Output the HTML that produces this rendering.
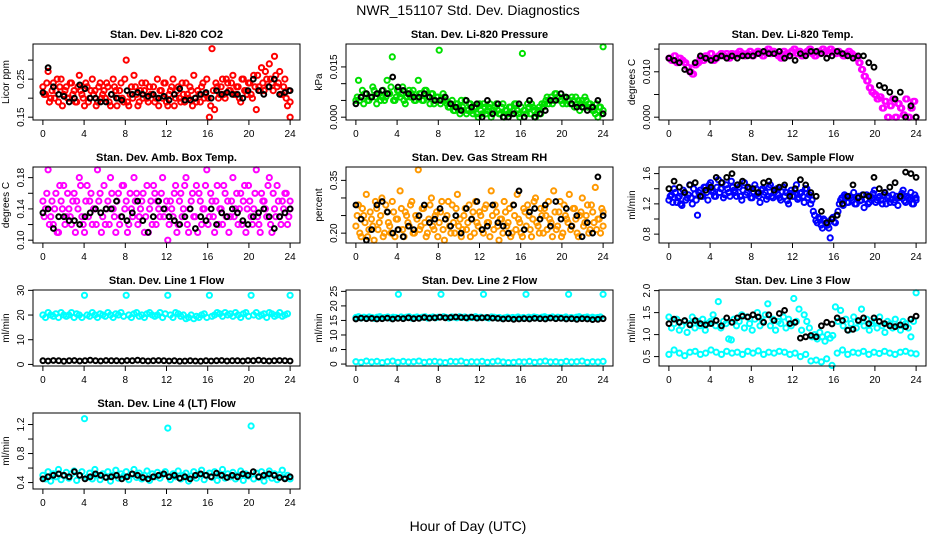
<!DOCTYPE html>
<html><head><meta charset="utf-8"><style>
html,body{margin:0;padding:0;background:#fff;}
svg{display:block;font-family:"Liberation Sans",Arial,sans-serif;}
</style></head><body>
<svg id="chart" width="936" height="540" viewBox="0 0 936 540" xmlns="http://www.w3.org/2000/svg">
<text x="468" y="15" text-anchor="middle" font-size="14">NWR_151107  Std. Dev. Diagnostics</text>
<text x="468" y="531" text-anchor="middle" font-size="14">Hour of Day (UTC)</text>
<g id="panels"></g>
</svg>
<script>
const xTicks=[0,4,8,12,16,20,24];
const co2Color=[0.23,0.21,0.27,0.20,0.24,0.22,0.19,0.25,0.21,0.23,0.20,0.24,0.22,0.19,0.26,0.21,0.18,0.23,0.20,0.25,0.22,0.19,0.24,0.21,
0.20,0.23,0.18,0.25,0.22,0.20,0.24,0.19,0.30,0.18,0.23,0.26,0.21,0.19,0.24,0.22,0.20,0.23,0.21,0.19,0.25,0.22,0.20,0.24,
0.18,0.22,0.25,0.20,0.23,0.19,0.21,0.24,0.20,0.22,0.26,0.19,0.21,0.23,0.20,0.25,0.15,0.33,0.17,0.23,0.21,0.25,0.20,0.24,
0.22,0.26,0.21,0.23,0.19,0.25,0.22,0.24,0.21,0.26,0.17,0.23,0.28,0.22,0.25,0.29,0.24,0.31,0.23,0.27,0.21,0.25,0.18,0.15];
const co2Color2=[0.21,0.24,0.19,0.22,0.20,0.25,0.23,0.18,0.22,0.20,0.24,0.21,0.19,0.23,0.22,0.20,0.24,0.19,0.22,0.21,0.18,0.23,0.20,0.22,
0.24,0.19,0.21,0.23,0.18,0.22,0.20,0.25,0.19,0.21,0.20,0.23,0.18,0.22,0.20,0.24,0.19,0.21,0.23,0.20,0.18,0.22,0.24,0.19,
0.21,0.23,0.18,0.22,0.20,0.24,0.19,0.21,0.23,0.18,0.20,0.22,0.19,0.24,0.21,0.20,0.18,0.22,0.24,0.20,0.23,0.21,0.25,0.22,
0.24,0.21,0.23,0.20,0.25,0.22,0.21,0.24,0.20,0.23,0.26,0.22,0.24,0.27,0.23,0.25,0.22,0.26,0.24,0.21,0.23,0.20,0.22,0.19];
const co2Black=[0.215,0.28,0.23,0.21,0.205,0.19,0.20,0.235,0.225,0.20,0.20,0.19,0.19,0.21,0.20,0.195,0.22,0.21,0.215,0.21,0.205,0.21,0.20,0.205,0.195,0.21,0.225,0.195,0.195,0.20,0.21,0.215,0.20,0.22,0.21,0.215,0.21,0.21,0.20,0.22,0.25,0.22,0.21,0.23,0.25,0.21,0.215,0.22];
const presColor=[0.005,0.011,0.006,0.004,0.007,0.005,0.006,0.008,0.004,0.007,0.006,0.005,0.011,0.007,0.018,0.005,0.008,0.006,0.009,0.004,0.007,0.006,0.008,0.005,
0.011,0.007,0.005,0.008,0.006,0.007,0.004,0.006,0.020,0.005,0.006,0.004,0.003,0.005,0.002,0.004,0.001,0.003,0.005,0.002,0.004,0.001,0.003,0.000,
0.002,0.004,0.001,0.003,0.000,0.002,0.004,0.001,0.003,0.000,0.002,0.003,0.001,0.004,0.002,0.000,0.019,0.002,0.004,0.001,0.003,0.000,0.002,0.001,
0.003,0.005,0.004,0.006,0.005,0.007,0.006,0.005,0.006,0.004,0.005,0.006,0.003,0.004,0.002,0.005,0.006,0.003,0.004,0.002,0.001,0.000,0.003,0.021];
const presColor2=[0.006,0.005,0.008,0.007,0.005,0.006,0.009,0.006,0.007,0.005,0.008,0.006,0.007,0.009,0.005,0.006,0.008,0.007,0.005,0.006,0.008,0.007,0.005,0.006,
0.007,0.005,0.008,0.006,0.004,0.007,0.005,0.006,0.004,0.007,0.005,0.003,0.004,0.002,0.004,0.003,0.005,0.002,0.001,0.004,0.002,0.003,0.001,0.004,
0.001,0.003,0.002,0.004,0.001,0.003,0.002,0.001,0.004,0.002,0.001,0.003,0.002,0.004,0.001,0.003,0.002,0.001,0.003,0.004,0.002,0.001,0.003,0.004,
0.004,0.006,0.005,0.004,0.007,0.006,0.005,0.004,0.006,0.005,0.004,0.005,0.006,0.005,0.004,0.003,0.005,0.004,0.003,0.002,0.004,0.003,0.001,0.002];
const presBlack=[0.004,0.006,0.007,0.006,0.007,0.008,0.007,0.012,0.009,0.008,0.007,0.006,0.006,0.007,0.006,0.005,0.005,0.006,0.004,0.003,0.002,0.005,0.003,0.004,0.000,0.005,0.001,0.004,0.000,0.000,0.001,0.004,0.000,0.005,0.000,0.001,0.002,0.005,0.005,0.007,0.006,0.004,0.003,0.003,0.002,0.003,0.005,0.001];
const tempColor=[0.013,0.0125,0.0135,0.012,0.013,0.0125,0.012,0.011,0.010,0.0095,0.0115,0.012,0.013,0.0125,0.0135,0.013,0.014,0.0125,0.013,0.0135,0.014,0.0135,0.014,0.013,
0.014,0.0135,0.014,0.0145,0.014,0.0135,0.014,0.0145,0.0135,0.014,0.0145,0.014,0.0135,0.0145,0.015,0.014,0.0145,0.014,0.0135,0.013,0.0145,0.014,0.0135,0.0145,
0.015,0.014,0.0145,0.0135,0.014,0.0145,0.015,0.014,0.0135,0.0145,0.014,0.015,0.0145,0.014,0.015,0.0145,0.014,0.0145,0.014,0.0135,0.014,0.0145,0.014,0.0135,
0.013,0.012,0.0105,0.009,0.008,0.0065,0.0055,0.005,0.004,0.0045,0.002,0.0035,0.000,0.0025,0.004,0.000,0.003,0.002,0.0005,0.004,0.000,0.002,0.0035,0.000];
const tempBlack=[0.013,0.0125,0.012,0.0105,0.010,0.012,0.0135,0.013,0.0125,0.013,0.0135,0.013,0.0135,0.013,0.0135,0.0135,0.0135,0.014,0.0145,0.014,0.014,0.0145,0.013,0.0135,0.0125,0.014,0.0135,0.0145,0.0145,0.014,0.013,0.0135,0.0145,0.014,0.0135,0.013,0.0135,0.0135,0.012,0.011,0.007,0.0065,0.0055,0.004,0.0055,0.000,0.0025,0.000];
const boxColor=[0.15,0.14,0.19,0.13,0.12,0.16,0.11,0.15,0.17,0.13,0.14,0.12,0.16,0.15,0.18,0.13,0.11,0.17,0.15,0.12,0.14,0.19,0.16,0.13,
0.12,0.15,0.18,0.14,0.11,0.16,0.13,0.17,0.15,0.12,0.14,0.18,0.16,0.13,0.15,0.11,0.17,0.14,0.12,0.16,0.15,0.13,0.18,0.14,
0.10,0.15,0.13,0.17,0.12,0.16,0.14,0.18,0.11,0.15,0.13,0.17,0.16,0.12,0.14,0.19,0.13,0.15,0.11,0.17,0.14,0.12,0.16,0.15,
0.13,0.18,0.14,0.12,0.16,0.15,0.11,0.17,0.13,0.14,0.19,0.12,0.16,0.15,0.13,0.18,0.11,0.14,0.17,0.13,0.15,0.16,0.12,0.14];
const boxColor2=[0.13,0.16,0.12,0.15,0.14,0.11,0.17,0.14,0.12,0.16,0.13,0.15,0.11,0.14,0.17,0.12,0.15,0.13,0.16,0.14,0.12,0.15,0.11,0.17,
0.14,0.12,0.16,0.13,0.15,0.12,0.17,0.14,0.11,0.16,0.13,0.15,0.12,0.14,0.16,0.13,0.11,0.15,0.17,0.12,0.14,0.16,0.13,0.15,
0.12,0.14,0.16,0.11,0.15,0.13,0.17,0.12,0.14,0.16,0.13,0.11,0.15,0.14,0.17,0.12,0.16,0.13,0.15,0.12,0.14,0.17,0.13,0.11,
0.15,0.13,0.16,0.14,0.12,0.17,0.14,0.15,0.12,0.16,0.13,0.11,0.15,0.14,0.17,0.12,0.16,0.13,0.15,0.12,0.14,0.16,0.13,0.15];
const boxBlack=[0.135,0.14,0.115,0.13,0.13,0.125,0.125,0.12,0.13,0.135,0.14,0.135,0.14,0.14,0.15,0.13,0.125,0.135,0.15,0.125,0.11,0.13,0.15,0.14,0.13,0.125,0.12,0.13,0.14,0.115,0.13,0.125,0.14,0.12,0.135,0.13,0.14,0.135,0.125,0.12,0.13,0.135,0.14,0.13,0.115,0.13,0.135,0.14];
const rhColor=[0.22,0.28,0.19,0.25,0.31,0.21,0.24,0.18,0.27,0.23,0.30,0.20,0.26,0.22,0.29,0.19,0.24,0.32,0.21,0.26,0.23,0.28,0.20,0.25,
0.38,0.22,0.27,0.19,0.24,0.30,0.21,0.26,0.23,0.29,0.18,0.25,0.22,0.28,0.20,0.31,0.24,0.21,0.27,0.23,0.19,0.26,0.29,0.22,
0.25,0.20,0.28,0.23,0.32,0.21,0.26,0.18,0.24,0.29,0.22,0.27,0.20,0.25,0.31,0.23,0.19,0.26,0.28,0.21,0.24,0.30,0.22,0.27,
0.20,0.25,0.29,0.23,0.32,0.21,0.26,0.19,0.28,0.24,0.31,0.22,0.27,0.20,0.25,0.30,0.23,0.28,0.21,0.26,0.33,0.24,0.20,0.22];
const rhColor2=[0.25,0.20,0.27,0.23,0.19,0.26,0.22,0.29,0.21,0.25,0.19,0.28,0.23,0.20,0.26,0.24,0.21,0.27,0.19,0.25,0.22,0.29,0.20,0.24,
0.21,0.27,0.23,0.20,0.28,0.22,0.25,0.19,0.26,0.21,0.24,0.29,0.20,0.23,0.27,0.22,0.19,0.25,0.21,0.28,0.24,0.20,0.23,0.26,
0.21,0.27,0.23,0.19,0.25,0.28,0.22,0.24,0.20,0.26,0.23,0.19,0.28,0.21,0.24,0.20,0.27,0.22,0.25,0.19,0.29,0.23,0.20,0.25,
0.27,0.21,0.24,0.19,0.26,0.22,0.29,0.20,0.25,0.23,0.21,0.27,0.24,0.19,0.26,0.22,0.25,0.20,0.28,0.23,0.21,0.24,0.27,0.26];
const rhBlack=[0.28,0.24,0.18,0.21,0.28,0.29,0.26,0.20,0.21,0.19,0.22,0.21,0.25,0.28,0.23,0.24,0.27,0.24,0.22,0.25,0.20,0.27,0.24,0.29,0.21,0.22,0.28,0.23,0.22,0.20,0.28,0.32,0.21,0.26,0.27,0.24,0.28,0.22,0.29,0.24,0.27,0.22,0.25,0.19,0.23,0.20,0.36,0.25];
const flowColor=[1.25,1.32,1.40,1.22,1.30,1.18,1.35,1.28,1.45,1.20,1.33,1.05,1.38,1.30,1.42,1.25,1.48,1.35,1.30,1.52,1.40,1.28,1.45,1.35,
1.50,1.38,1.30,1.42,1.25,1.48,1.35,1.40,1.28,1.45,1.33,1.22,1.40,1.35,1.30,1.45,1.28,1.38,1.32,1.25,1.42,1.35,1.20,1.38,
1.30,1.45,1.28,1.35,1.22,1.40,1.32,1.25,1.05,0.95,1.00,0.88,0.98,0.92,0.75,1.02,0.95,1.10,1.25,1.18,1.30,1.22,1.28,1.35,
1.20,1.30,1.25,1.15,1.32,1.22,1.28,1.38,1.25,1.30,1.20,1.35,1.28,1.22,1.32,1.25,1.18,1.30,1.38,1.22,1.28,1.35,1.20,1.25];
const flowColor2=[1.30,1.22,1.35,1.28,1.20,1.38,1.25,1.32,1.28,1.40,1.25,1.35,1.30,1.42,1.35,1.45,1.38,1.30,1.42,1.35,1.48,1.32,1.40,1.30,
1.42,1.35,1.45,1.30,1.38,1.32,1.42,1.28,1.36,1.40,1.30,1.38,1.32,1.26,1.42,1.30,1.35,1.40,1.28,1.36,1.30,1.24,1.34,1.30,
1.38,1.26,1.34,1.30,1.40,1.28,1.20,1.10,0.98,1.02,0.92,1.00,0.95,0.88,1.00,0.96,1.05,1.20,1.28,1.32,1.22,1.30,1.25,1.20,
1.28,1.24,1.32,1.26,1.20,1.30,1.34,1.22,1.28,1.25,1.32,1.20,1.30,1.26,1.22,1.30,1.28,1.34,1.24,1.30,1.26,1.20,1.32,1.28];
const flowBlack=[1.40,1.50,1.42,1.35,1.45,1.48,1.30,1.38,1.42,1.55,1.48,1.55,1.60,1.45,1.50,1.42,1.40,1.35,1.48,1.50,1.38,1.42,1.45,1.30,1.40,1.52,1.45,1.35,1.30,1.10,0.95,1.00,1.05,1.20,1.30,1.45,1.28,1.32,1.30,1.55,1.40,1.35,1.42,1.48,1.30,1.62,1.60,1.55];
const line1Color=[20,19,21,20,19.5,20.5,19,21,20,19.5,20,21,19,20.5,20,19,28,20,19.5,21,20,19,20.5,20,
19.5,21,20,19,20.5,20,21,19.5,28,20,19,20.5,21,19.5,20,19,20.5,21,20,19.5,20,21,19,20.5,
28,20,19,21,20.5,19.5,20,18.5,19,20,18.5,19.5,19,20,20.5,19,28,19.5,20,21,20.5,19.5,21,20,
20.5,19.5,21,20,19,20.5,21,19.5,28,20,21,19.5,20,20.5,19,21,20.5,19.5,20,21,19.5,20,20.5,28];
const line1Black=[1.5,1.4,1.6,1.5,1.3,1.5,1.6,1.4,1.5,1.7,1.5,1.4,1.6,1.5,1.5,1.4,1.6,1.5,1.7,1.5,1.4,1.5,1.6,1.5,1.4,1.5,1.3,1.4,1.5,1.4,1.3,1.5,1.4,1.5,1.6,1.4,1.5,1.5,1.4,1.6,1.5,1.7,1.5,1.4,1.5,1.6,1.5,1.4];
const line2Color=[16,16.3,15.8,16.1,15.9,16.2,16,15.7,16.1,16.3,15.9,16,16.2,15.8,16.1,16,24,16.2,15.9,16.1,16.3,15.8,16,16.2,
15.9,16.1,16.3,15.8,16,16.2,15.9,16.1,24,16.3,16,15.8,16.2,16.1,15.9,16.3,16,16.2,15.8,16.1,16,16.3,15.9,16.1,
24,16,15.8,16.2,16.1,15.9,16,15.7,15.9,16.1,15.8,16,15.9,16.2,15.8,16,24,16.1,15.9,16.2,16,15.8,16.1,16.3,
15.9,16,16.2,15.8,16.1,16,15.9,16.2,24,16,15.8,16.1,16.3,15.9,16,16.2,15.8,16.1,15.9,16,16.2,24];
const line2Low=[0.8,0.6,1.0,0.7,0.9,0.5,0.8,1.0,0.6,0.9,0.7,0.8,1.0,0.6,0.8,0.9,0.7,0.5,0.9,0.8,1.0,0.6,0.8,0.7,0.9,0.6,0.8,1.0,0.7,0.5,0.6,0.8,0.7,0.9,0.6,0.8,1.0,0.7,0.8,0.6,0.9,0.7,0.8,1.0,0.6,0.8,0.7,0.9];
const line2Black=[15.5,15.8,15.6,15.7,15.5,15.6,15.8,15.5,15.7,15.6,15.9,15.6,15.7,16.0,15.8,15.9,16.1,15.9,16.0,16.2,16.0,15.9,16.1,15.8,15.9,16.0,15.8,15.7,15.5,15.6,15.4,15.5,15.6,15.5,15.7,15.6,15.5,15.8,15.6,15.7,15.5,15.6,15.4,15.6,15.5,15.3,15.4,15.6];
const line3Color=[1.40,1.15,1.25,1.35,1.10,1.20,1.30,1.05,1.25,1.40,1.15,1.30,1.20,1.35,1.10,1.25,1.30,1.45,1.20,1.75,1.15,1.30,1.25,0.90,
0.88,1.35,1.20,1.30,1.45,1.15,1.40,1.25,1.10,1.35,1.50,1.20,1.30,1.45,1.70,1.20,1.35,1.10,1.30,1.25,1.40,1.15,1.35,1.20,
1.82,1.30,1.58,1.10,1.45,1.30,1.15,0.95,1.00,0.90,1.05,0.95,0.85,1.00,0.92,0.98,1.63,1.30,1.55,1.20,1.35,1.10,1.25,1.40,
1.15,1.30,1.58,1.20,1.35,1.10,1.25,1.30,1.15,1.40,1.20,1.05,1.30,1.25,1.15,1.35,1.20,1.10,1.30,1.25,1.15,0.95,1.30,1.95];
const line3Low=[0.55,0.65,0.58,0.52,0.60,0.62,0.55,0.58,0.65,0.60,0.55,0.62,0.58,0.60,0.55,0.62,0.58,0.63,0.55,0.60,0.58,0.62,0.60,0.55,0.58,0.50,0.55,0.40,0.42,0.38,0.45,0.30,0.58,0.65,0.55,0.60,0.58,0.62,0.55,0.60,0.57,0.62,0.58,0.55,0.60,0.62,0.58,0.56];
const line3Black=[1.25,1.35,1.28,1.32,1.22,1.32,1.25,1.22,1.25,1.32,1.20,1.38,1.28,1.38,1.42,1.40,1.45,1.40,1.28,1.45,1.32,1.48,1.55,1.25,1.28,0.92,0.95,0.98,0.95,1.20,1.28,1.24,1.38,1.32,1.10,1.12,1.32,1.38,1.25,1.38,1.30,1.25,1.20,1.18,1.22,1.18,1.35,1.42];
const line4Color=[0.50,0.45,0.55,0.42,0.52,0.48,0.58,0.44,0.50,0.54,0.46,0.52,0.56,0.43,0.50,0.55,1.28,0.47,0.53,0.45,0.58,0.50,0.44,0.52,
0.48,0.55,0.42,0.50,0.57,0.46,0.52,0.49,0.55,0.44,0.51,0.58,0.47,0.53,0.45,0.50,0.56,0.43,0.52,0.48,0.54,0.46,0.51,0.55,
1.15,0.44,0.52,0.48,0.56,0.45,0.50,0.53,0.42,0.49,0.55,0.46,0.51,0.57,0.44,0.50,0.53,0.47,0.55,0.43,0.51,0.58,0.46,0.52,
0.48,0.54,0.45,0.50,0.56,0.43,0.52,0.49,1.18,0.45,0.53,0.47,0.55,0.42,0.50,0.56,0.46,0.52,0.44,0.51,0.57,0.47,0.50,0.45];
const line4Black=[0.45,0.48,0.50,0.52,0.50,0.48,0.55,0.50,0.45,0.48,0.52,0.50,0.47,0.48,0.50,0.45,0.48,0.52,0.50,0.47,0.45,0.48,0.50,0.52,0.48,0.50,0.46,0.48,0.45,0.50,0.52,0.50,0.48,0.53,0.50,0.47,0.50,0.48,0.52,0.50,0.55,0.48,0.50,0.52,0.50,0.47,0.45,0.48];

const panels=[
 {name:'co2',title:'Stan. Dev. Li-820 CO2',ylab:'Licor ppm',col:0,row:0,ylim:[0.15,0.335],ticks:[0.15,0.2,0.25,0.3],labels:['0.15','','0.25',''],series:[[co2Color,'#ff0000',0],[co2Color2,'#ff0000',0.125],[co2Black,'#000',0]]},
 {name:'pressure',title:'Stan. Dev. Li-820 Pressure',ylab:'kPa',col:1,row:0,ylim:[0,0.021],ticks:[0,0.005,0.01,0.015],labels:['0.000','','','0.015'],series:[[presColor,'#00e000',0],[presColor2,'#00e000',0.125],[presBlack,'#000',0]]},
 {name:'temp',title:'Stan. Dev. Li-820 Temp.',ylab:'degrees C',col:2,row:0,ylim:[0,0.0155],ticks:[0,0.005,0.01,0.015],labels:['0.000','','0.010',''],series:[[tempColor,'#ff00ff',0],[tempColor,'#ff00ff',0.125],[tempBlack,'#000',0]]},
 {name:'box-temp',title:'Stan. Dev. Amb. Box Temp.',ylab:'degrees C',col:0,row:1,ylim:[0.10,0.19],ticks:[0.10,0.12,0.14,0.16,0.18],labels:['0.10','','0.14','','0.18'],series:[[boxColor,'#ff00ff',0],[boxColor2,'#ff00ff',0.125],[boxBlack,'#000',0]]},
 {name:'rh',title:'Stan. Dev. Gas Stream RH',ylab:'percent',col:1,row:1,ylim:[0.18,0.38],ticks:[0.20,0.25,0.30,0.35],labels:['0.20','','','0.35'],series:[[rhColor,'#ff9900',0],[rhColor2,'#ff9900',0.125],[rhBlack,'#000',0]]},
 {name:'sample-flow',title:'Stan. Dev. Sample Flow',ylab:'ml/min',col:2,row:1,ylim:[0.72,1.65],ticks:[0.8,1.0,1.2,1.4,1.6],labels:['0.8','','1.2','','1.6'],series:[[flowColor,'#0000ff',0],[flowColor2,'#0000ff',0.125],[flowBlack,'#000',0]]},
 {name:'line1-flow',title:'Stan. Dev. Line 1 Flow',ylab:'ml/min',col:0,row:2,ylim:[0.5,29],ticks:[0,10,20,30],labels:['0','10','20','30'],series:[[line1Color,'#00ffff',0],[line1Black,'#000',0]]},
 {name:'line2-flow',title:'Stan. Dev. Line 2 Flow',ylab:'ml/min',col:1,row:2,ylim:[0.3,24.5],ticks:[0,5,10,15,20,25],labels:['0','5','10','15','20','25'],series:[[line2Color,'#00ffff',0],[line2Low,'#00ffff',0],[line2Black,'#000',0]]},
 {name:'line3-flow',title:'Stan. Dev. Line 3 Flow',ylab:'ml/min',col:2,row:2,ylim:[0.35,1.95],ticks:[0.5,1.0,1.5,2.0],labels:['0.5','1.0','1.5','2.0'],series:[[line3Color,'#00ffff',0],[line3Low,'#00ffff',0],[line3Black,'#000',0]]},
 {name:'line4-flow',title:'Stan. Dev. Line 4 (LT) Flow',ylab:'ml/min',col:0,row:3,ylim:[0.35,1.32],ticks:[0.4,0.6,0.8,1.0,1.2],labels:['0.4','','0.8','','1.2'],series:[[line4Color,'#00ffff',0],[line4Black,'#000',0]]}
];
const NS='http://www.w3.org/2000/svg';
const root=document.getElementById('panels');
function mk(tag,attrs,parent){const e=document.createElementNS(NS,tag);for(const k in attrs)e.setAttribute(k,attrs[k]);parent.appendChild(e);return e;}
const colL=[33,346,659],rowT=[44,167,290,413],W=267,H=76;
panels.forEach(p=>{
 const L=colL[p.col],T=rowT[p.row];
 const g=mk('g',{},root);
 
 
 const xs=v=>L+W*(v+0.96)/25.92;
 const r=p.ylim[1]-p.ylim[0],lo=p.ylim[0]-0.04*r,hi=p.ylim[1]+0.04*r;
 const ys=v=>T+H-(v-lo)/(hi-lo)*H;
 const t=mk('text',{x:L+W/2,y:T-6,'text-anchor':'middle','font-size':'11','font-weight':'bold'},g);
 t.textContent=p.title;
 
 
 const yl=mk('text',{transform:`translate(${L-24},${T+H/2}) rotate(-90)`,'text-anchor':'middle','font-size':'10'},g);
 yl.textContent=p.ylab;
 
 
 p.series.forEach((s,si)=>{
  const arr=s[0],n=arr.length,sh=s[2];
  const black=s[1]==='#000';
  const sg=mk('g',{fill:'none',stroke:s[1],'stroke-width':black?2:2},g);
  
  
  arr.forEach((v,i)=>{
   const h=Math.min(24,i*24/(n-1)+sh);
   const c=mk('circle',{cx:xs(h).toFixed(1),cy:ys(v).toFixed(1),r:black?2.4:2.6},sg);
   
   
  });
 });
 const b=mk('rect',{x:L,y:T,width:W,height:H,fill:'none',stroke:'#000','stroke-width':1},g);
 
 
 const ax=mk('g',{stroke:'#000','stroke-width':1},g);
 
 
 mk('line',{x1:xs(0),x2:xs(24),y1:T+H,y2:T+H},ax);
 xTicks.forEach(v=>{
  mk('line',{x1:xs(v),x2:xs(v),y1:T+H,y2:T+H+5},ax);
  const tl=mk('text',{x:xs(v),y:T+H+17,'text-anchor':'middle','font-size':'10',stroke:'none',fill:'#000'},ax);
  tl.textContent=v;
  
  
 });
 const ay=mk('g',{stroke:'#000','stroke-width':1},g);
 
 
 p.ticks.forEach((v,i)=>{
  mk('line',{x1:L-5,x2:L,y1:ys(v),y2:ys(v)},ay);
  if(p.labels[i]){
   const tl=mk('text',{transform:`translate(${L-9},${ys(v)}) rotate(-90)`,'text-anchor':'middle','font-size':'10',stroke:'none',fill:'#000'},ay);
   tl.textContent=p.labels[i];
   
   
  }
 });
});
</script>
</body></html>
